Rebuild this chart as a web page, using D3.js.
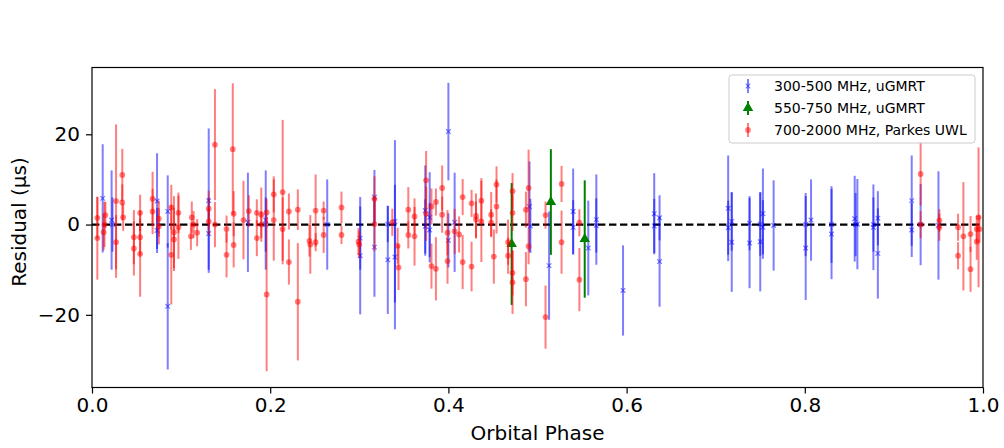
<!DOCTYPE html>
<html lang="en">
<head>
    <meta charset="UTF-8">
    <title>Timing residuals vs orbital phase</title>
    <script src="https://d3js.org/d3.v7.min.js"></script>
    <style>
        body { margin: 0; background: #fff; }
        text { font-family: "DejaVu Sans", sans-serif; }
    </style>
</head>
<body>
    <div id="plot"></div>

    <script>
        // [orbital phase, residual (us), error (us)]
        const gmrtLow = [
            [0.012, 5.8, 12], [0.022, 1.0, 11], [0.023, 0.0, 6], [0.073, 5.2, 10.6], [0.073, -1.3, 5],
            [0.085, 2.9, 8], [0.085, -18.1, 14], [0.131, 5.3, 16], [0.131, -2.0, 8], [0.175, 0.5, 11],
            [0.195, 1.0, 11], [0.195, 0.0, 6], [0.264, 0.0, 10], [0.301, -6.9, 13], [0.301, -3.0, 7],
            [0.317, 6.1, 6], [0.317, -5.0, 11], [0.332, 0.1, 4], [0.332, -7.8, 12], [0.340, 0.7, 18],
            [0.340, -7.2, 16], [0.374, 3.1, 10], [0.374, -0.4, 6], [0.379, 1.6, 10], [0.379, -1.2, 6],
            [0.400, 20.6, 10.8], [0.400, -3.5, 6], [0.407, 0.5, 11], [0.491, 4.0, 10], [0.492, -0.3, 6],
            [0.513, -9.1, 12], [0.540, 2.9, 9.5], [0.540, -0.6, 6], [0.557, -5.2, 10.5], [0.566, 1.1, 10],
            [0.566, -0.2, 6], [0.596, -14.6, 10], [0.631, 2.4, 9], [0.631, -0.3, 6], [0.637, 1.5, 5],
            [0.637, -8.2, 10], [0.714, 3.6, 11.7], [0.714, -0.7, 6], [0.718, 0.7, 6.5], [0.718, -3.9, 11],
            [0.738, 0.3, 6], [0.738, -4.1, 10], [0.750, 0.1, 7], [0.750, -3.8, 11], [0.753, 2.4, 10],
            [0.753, -0.6, 6], [0.765, -0.2, 10], [0.801, 0.0, 7], [0.801, -5.2, 11.5], [0.807, 1.0, 9],
            [0.830, 0.0, 8.5], [0.830, -2.1, 10], [0.856, 1.3, 9.5], [0.857, 0.0, 7], [0.859, 0.1, 10],
            [0.877, -0.6, 9.5], [0.877, 0.0, 6], [0.882, 1.4, 6], [0.882, -6.4, 10], [0.920, 5.3, 10],
            [0.920, -1.2, 6], [0.930, 0.0, 9], [0.950, -0.2, 12]
        ];
        const gmrtHigh = [
            [0.471, -4.3, 13.5], [0.515, 5.0, 11.7], [0.553, -3.2, 13]
        ];
        const parkesUwl = [
            [0.006, 1.5, 4.6], [0.006, -3.0, 9.2], [0.013, -1.7, 4], [0.015, 2.1, 3], [0.014, 0.0, 5],
            [0.027, 5.2, 17], [0.027, -3.9, 6], [0.034, 11.0, 5.8], [0.034, 4.9, 4], [0.035, 1.6, 3],
            [0.047, -2.8, 6], [0.047, -5.3, 6], [0.054, 2.6, 4], [0.054, -2.8, 4], [0.054, -6.5, 9.5],
            [0.068, 5.7, 6], [0.068, 2.9, 5], [0.075, 1.3, 4], [0.075, -0.4, 4], [0.089, 3.8, 5],
            [0.089, -6.7, 11], [0.092, -1.7, 8], [0.092, -3.3, 7], [0.097, 2.6, 4.5], [0.097, -0.6, 7],
            [0.112, 1.6, 3.5], [0.111, -2.6, 3], [0.114, 0.0, 3], [0.118, -1.8, 3], [0.131, 3.5, 4],
            [0.131, 0.7, 3], [0.138, 17.7, 12.3], [0.138, 0.0, 5], [0.151, -1.0, 3], [0.151, -6.7, 5],
            [0.158, 16.7, 14.6], [0.159, 2.4, 5], [0.159, -4.5, 5], [0.170, 1.0, 8.7], [0.176, 3.0, 3.5],
            [0.185, 2.6, 3], [0.185, -3.0, 4], [0.190, 2.2, 6], [0.190, 0.0, 3], [0.196, 2.7, 3],
            [0.196, -15.5, 17], [0.204, 6.7, 4], [0.204, 1.0, 9], [0.214, 7.2, 16], [0.214, -1.0, 7],
            [0.221, 2.9, 4], [0.221, -8.3, 5], [0.231, 3.3, 4.5], [0.231, -17.1, 13], [0.244, -3.6, 3.5],
            [0.245, -4.4, 6.5], [0.251, 3.1, 8], [0.251, -3.9, 2], [0.260, 3.1, 2], [0.260, -2.3, 4],
            [0.280, 3.8, 3.5], [0.280, -2.3, 2], [0.299, -3.8, 3], [0.300, -4.4, 3], [0.317, 5.7, 5],
            [0.317, 0.1, 6], [0.337, 0.5, 3], [0.343, -4.7, 4], [0.344, -9.5, 5], [0.355, 3.3, 5],
            [0.355, -2.3, 3], [0.362, 1.8, 4], [0.362, -2.6, 6.5], [0.375, 9.8, 6.5], [0.375, 2.4, 6],
            [0.381, 4.0, 4], [0.381, -9.2, 5], [0.386, 5.0, 3], [0.386, -9.8, 7], [0.393, 8.1, 5],
            [0.393, 2.2, 4], [0.399, -1.8, 5], [0.399, -8.1, 5], [0.407, -1.5, 5], [0.412, -2.2, 4],
            [0.416, 6.1, 4], [0.416, -8.3, 6], [0.426, 4.7, 3], [0.426, -9.3, 5.5], [0.431, 1.9, 5],
            [0.431, 1.1, 4], [0.437, 5.3, 5], [0.437, 0.7, 9], [0.448, 2.2, 5], [0.448, 0.4, 3],
            [0.454, 8.9, 4], [0.454, 4.0, 6], [0.451, -7.1, 6], [0.467, -3.9, 5], [0.467, -6.9, 4],
            [0.472, 7.4, 4], [0.472, 2.6, 4], [0.472, -10.7, 5], [0.472, -12.8, 7], [0.487, 3.3, 4],
            [0.487, -12.1, 6], [0.490, 8.1, 8.5], [0.490, -4.8, 4], [0.509, 2.1, 3], [0.509, -20.5, 7],
            [0.527, 9.0, 4], [0.527, -3.9, 7], [0.547, 0.4, 3], [0.547, -12.2, 7], [0.930, 11.2, 7],
            [0.930, 0.0, 3], [0.951, 0.9, 2.5], [0.951, -0.6, 3], [0.972, -0.6, 3], [0.972, -6.9, 3],
            [0.978, -2.6, 12], [0.986, -2.1, 4], [0.986, -9.9, 5], [0.993, -1.0, 3], [0.993, -3.8, 4],
            [0.995, 1.6, 15.5], [0.996, -1.0, 3]
        ];
        const xTicks = [0, 0.2, 0.4, 0.6, 0.8, 1.0];
        const yTicks = [-20, 0, 20];
        const seriesNames = ["300-500 MHz, uGMRT", "550-750 MHz, uGMRT", "700-2000 MHz, Parkes UWL"];

        const W = 1004, H = 448;
        const m = { left: 92, right: 983, top: 67.5, bottom: 387.5 };

        const svg = d3.select("#plot").append("svg")
            .attr("width", W)
            .attr("height", H);

        const x = d3.scaleLinear().domain([0, 1]).range([m.left, m.right]);
        const y = d3.scaleLinear().domain([-36.1, 34.8]).range([m.bottom, m.top]);

        const plot = svg.append("g");

        // zero line
        plot.append("line")
            .attr("x1", m.left).attr("x2", m.right)
            .attr("y1", y(0)).attr("y2", y(0))
            .attr("stroke", "black")
            .attr("stroke-width", 2.2)
            .attr("stroke-dasharray", "7.4,3.6");

        function errorbars(data, color, alpha) {
            plot.append("g").selectAll("line")
                .data(data)
                .join("line")
                .attr("x1", d => x(d[0])).attr("x2", d => x(d[0]))
                .attr("y1", d => y(d[1] - d[2])).attr("y2", d => y(d[1] + d[2]))
                .attr("stroke", color)
                .attr("stroke-width", 2)
                .attr("opacity", alpha);
        }

        // 300-500 MHz: blue x markers
        errorbars(gmrtLow, "#0000ff", 0.5);
        plot.append("g").selectAll("path")
            .data(gmrtLow)
            .join("path")
            .attr("d", d => {
                const cx = x(d[0]), cy = y(d[1]), s = 2.3;
                return `M${cx - s},${cy - s}L${cx + s},${cy + s}M${cx - s},${cy + s}L${cx + s},${cy - s}`;
            })
            .attr("stroke", "#0000ff")
            .attr("stroke-width", 1.2)
            .attr("opacity", 0.5);

        // 550-750 MHz: green triangles
        errorbars(gmrtHigh, "#008000", 1);
        plot.append("g").selectAll("path")
            .data(gmrtHigh)
            .join("path")
            .attr("transform", d => `translate(${x(d[0])},${y(d[1])})`)
            .attr("d", d3.symbol(d3.symbolTriangle, 48))
            .attr("fill", "#008000");

        // 700-2000 MHz: red circles
        errorbars(parkesUwl, "#ff0000", 0.5);
        plot.append("g").selectAll("circle")
            .data(parkesUwl)
            .join("circle")
            .attr("cx", d => x(d[0]))
            .attr("cy", d => y(d[1]))
            .attr("r", 2.9)
            .attr("fill", "#ff0000")
            .attr("opacity", 0.5);

        // axes
        const xAxis = svg.append("g")
            .attr("transform", `translate(0,${m.bottom})`)
            .call(d3.axisBottom(x).tickValues(xTicks).tickFormat(d3.format(".1f")).tickSize(6).tickPadding(4));
        const yAxis = svg.append("g")
            .attr("transform", `translate(${m.left},0)`)
            .call(d3.axisLeft(y).tickValues(yTicks).tickFormat(d => d < 0 ? "\u2212" + Math.abs(d) : d).tickSize(6).tickPadding(6));
        [xAxis, yAxis].forEach(a => {
            a.select(".domain").remove();
            a.selectAll(".tick line").attr("stroke", "black").attr("stroke-width", 1.2);
            a.selectAll(".tick text").attr("fill", "black").style("font-size", "20px")
                .style("font-family", "'DejaVu Sans', sans-serif");
        });

        svg.append("rect")
            .attr("x", m.left).attr("y", m.top)
            .attr("width", m.right - m.left).attr("height", m.bottom - m.top)
            .attr("fill", "none")
            .attr("stroke", "black")
            .attr("stroke-width", 1.2);

        svg.append("text")
            .attr("x", (m.left + m.right) / 2)
            .attr("y", 440)
            .attr("text-anchor", "middle")
            .style("font-size", "20px")
            .text("Orbital Phase");

        svg.append("text")
            .attr("transform", `translate(26,222) rotate(-90)`)
            .attr("text-anchor", "middle")
            .style("font-size", "20px")
            .text("Residual (\u03bcs)");

        // legend
        const lg = svg.append("g");
        lg.append("rect")
            .attr("x", 729).attr("y", 75)
            .attr("width", 246).attr("height", 68)
            .attr("rx", 3)
            .attr("fill", "white").attr("fill-opacity", 0.8)
            .attr("stroke", "#cccccc").attr("stroke-width", 1);
        const rows = lg.selectAll("g.row")
            .data(seriesNames)
            .join("g")
            .attr("class", "row")
            .attr("transform", (d, i) => `translate(748,${86 + i * 22})`);
        rows.append("text")
            .attr("x", 26)
            .attr("dy", "0.35em")
            .style("font-size", "14px")
            .text(d => d);
        // handles
        const h0 = rows.filter((d, i) => i === 0);
        h0.append("line").attr("y1", -7).attr("y2", 7).attr("stroke", "#0000ff").attr("stroke-width", 2).attr("opacity", 0.5);
        h0.append("path").attr("d", "M-2.3,-2.3L2.3,2.3M-2.3,2.3L2.3,-2.3").attr("stroke", "#0000ff").attr("stroke-width", 1.2).attr("opacity", 0.5);
        const h1 = rows.filter((d, i) => i === 1);
        h1.append("line").attr("y1", -7).attr("y2", 7).attr("stroke", "#008000").attr("stroke-width", 2);
        h1.append("path").attr("d", d3.symbol(d3.symbolTriangle, 48)).attr("fill", "#008000");
        const h2 = rows.filter((d, i) => i === 2);
        h2.append("line").attr("y1", -7).attr("y2", 7).attr("stroke", "#ff0000").attr("stroke-width", 2).attr("opacity", 0.5);
        h2.append("circle").attr("r", 2.9).attr("fill", "#ff0000").attr("opacity", 0.5);
    </script>
</body>
</html>
